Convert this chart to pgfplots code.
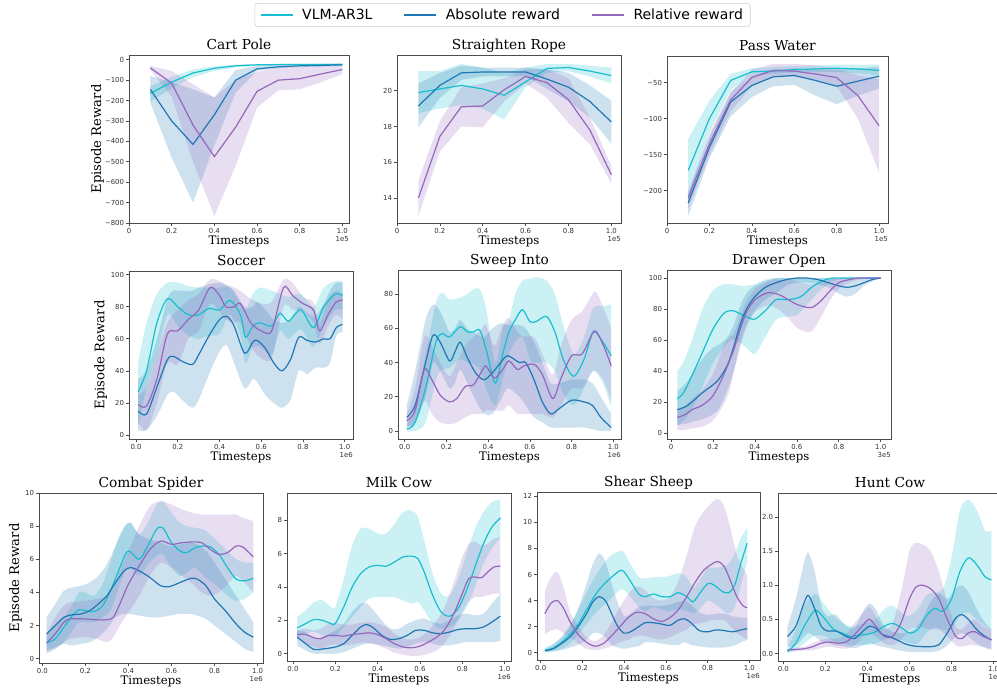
\documentclass[border=0pt]{standalone}
\usepackage{fontspec}
\setmainfont{DejaVu Serif}
\newfontfamily\sansf{DejaVu Sans}
\usepackage{pgfplots}
\usepackage{pgfplotstable}
\pgfplotsset{compat=1.18}
\usepgfplotslibrary{fillbetween}
\definecolor{ccyan}{HTML}{17BECF}
\definecolor{cblue}{HTML}{1F77B4}
\definecolor{cpurple}{HTML}{9467BD}

\newcommand{\band}[4]{%
 \addplot[name path=U#3, draw=none, #4, forget plot] table[x=x,y=hi]{#1};
 \addplot[name path=L#3, draw=none, #4, forget plot] table[x=x,y=lo]{#1};
 \addplot[fill=#2, fill opacity=0.22, draw=none, forget plot] fill between[of=U#3 and L#3];
 \addplot[#2, line width=0.9pt, #4] table[x=x,y=m]{#1};
}

\pgfplotsset{
 myax/.style={scale only axis, anchor=south west,
  axis line style={black!70, line width=0.6pt},
  tick align=outside, tick pos=left, major tick length=2pt,
  tick style={black!70, line width=0.5pt},
  ticklabel style={font=\sansf\fontsize{5.2}{6}\selectfont, text=black!80, inner sep=1.5pt},
  title style={font=\fontsize{10.3}{12}\selectfont, anchor=base, at={(0.5,1)}, yshift=-2.2pt},
  xlabel={Timesteps},
  xlabel style={font=\fontsize{8.8}{10}\selectfont, at={(0.5,0)}, anchor=base, yshift=-16pt},
  ylabel style={font=\fontsize{9.9}{11}\selectfont, at={(0,0.5)}, anchor=center},
  xtick={0,0.2,0.4,0.6,0.8,1}, xticklabels={0.0,0.2,0.4,0.6,0.8,1.0}},
 off/.style={extra description/.code={\node[anchor=north east, yshift=-10pt, font=\sansf\fontsize{5.2}{6}\selectfont, text=black!80, inner sep=0pt] at (1,0) {#1};}},
}

% ---------------- Cart Pole
\pgfplotstableread{
x m lo hi
0.1 -165 -205 -130
0.2 -110 -140 -85
0.3 -65 -85 -48
0.4 -42 -55 -32
0.5 -30 -38 -24
0.6 -25 -30 -20
0.7 -24 -28 -20
0.8 -24 -28 -20
0.9 -24 -28 -20
1.0 -24 -28 -20
}\cpC
\pgfplotstableread{
x m lo hi
0.1 -145 -210 -80
0.2 -300 -480 -110
0.3 -415 -700 -145
0.4 -270 -420 -185
0.5 -100 -160 -50
0.6 -45 -55 -30
0.7 -35 -42 -25
0.8 -30 -36 -22
0.9 -28 -33 -20
1.0 -25 -30 -18
}\cpB
\pgfplotstableread{
x m lo hi
0.1 -40 -50 -30
0.2 -115 -180 -55
0.3 -320 -500 -120
0.4 -475 -765 -185
0.5 -330 -520 -100
0.6 -155 -235 -60
0.7 -100 -150 -40
0.8 -93 -145 -35
0.9 -70 -110 -30
1.0 -48 -70 -25
}\cpP
% ---------------- Straighten Rope
\pgfplotstableread{
x m lo hi
0.1 19.9 18.75 21.1
0.2 20.1 19.0 21.1
0.3 20.3 19.2 21.5
0.4 20.1 19.0 21.3
0.5 19.75 18.4 21.0
0.6 20.5 20.2 21.3
0.7 21.25 21.0 21.5
0.8 21.3 21.1 21.5
0.9 21.1 20.8 21.4
1.0 20.85 20.4 21.3
}\srC
\pgfplotstableread{
x m lo hi
0.1 19.15 17.95 20.4
0.2 20.3 19.6 21.0
0.3 21.0 20.6 21.4
0.4 21.05 20.8 21.3
0.5 21.05 20.8 21.3
0.6 21.05 20.8 21.3
0.7 20.65 20.1 21.2
0.8 20.2 19.4 21.0
0.9 19.4 18.5 20.3
1.0 18.25 17.05 19.45
}\srB
\pgfplotstableread{
x m lo hi
0.1 14.0 13.0 15.0
0.2 17.45 16.6 18.3
0.3 19.1 18.0 20.2
0.4 19.15 17.95 20.4
0.5 20.05 19.4 20.7
0.6 20.8 20.4 21.2
0.7 20.45 19.6 21.2
0.8 19.5 18.2 20.7
0.9 17.8 17.0 18.5
1.0 15.3 14.8 15.8
}\srP
% ---------------- Pass Water
\pgfplotstableread{
x m lo hi
0.1 -172 -215 -128
0.2 -100 -120 -75
0.3 -47 -60 -38
0.4 -35 -40 -30
0.5 -34 -38 -28
0.6 -32 -36 -27
0.7 -31 -35 -26
0.8 -30 -35 -25
0.9 -31 -37 -25
1.0 -33 -40 -25
}\pwC
\pgfplotstableread{
x m lo hi
0.1 -217 -235 -205
0.2 -140 -155 -125
0.3 -77 -97 -62
0.4 -54 -70 -40
0.5 -42 -55 -32
0.6 -40 -53 -30
0.7 -47 -68 -32
0.8 -55 -80 -32
0.9 -48 -68 -30
1.0 -41 -58 -28
}\pwB
\pgfplotstableread{
x m lo hi
0.1 -210 -225 -200
0.2 -135 -150 -122
0.3 -74 -90 -65
0.4 -43 -55 -32
0.5 -33 -42 -24
0.6 -34 -42 -24
0.7 -38 -46 -26
0.8 -43 -55 -30
0.9 -68 -100 -40
1.0 -110 -175 -45
}\pwP
% ---------------- Soccer
\pgfplotstableread{
x m lo hi
0.01 27 5 45
0.05 40 30 70
0.10 70 50 88
0.15 85 75 95
0.20 80 68 95
0.25 75 62 93
0.30 75 60 92
0.35 79 62 92
0.40 78 63 92
0.45 84 75 92
0.50 75 62 82
0.525 61 45 78
0.56 68 55 88
0.595 70 55 92
0.65 68 50 90
0.69 76 65 88
0.73 71 60 86
0.79 78 66 88
0.85 67 55 80
0.90 80 68 92
0.955 88 78 96
0.99 87 78 96
}\soC
\pgfplotstableread{
x m lo hi
0.01 15 3 35
0.05 13 3 40
0.10 30 12 60
0.15 47 25 85
0.18 49 27 90
0.22 46 22 90
0.27 44 17 90
0.30 50 22 92
0.35 62 38 94
0.40 72 52 95
0.435 74 56 93
0.47 68 45 90
0.52 51 29 80
0.56 58 35 80
0.58 59 33 83
0.62 54 25 78
0.66 45 20 72
0.70 40 17 70
0.74 47 22 72
0.78 61 40 80
0.82 59 38 76
0.86 58 42 74
0.90 60 42 82
0.93 60 45 90
0.96 67 62 95
0.99 69 64 95
}\soB
\pgfplotstableread{
x m lo hi
0.01 19 8 25
0.05 18 3 30
0.10 35 20 50
0.15 63 45 70
0.20 65 44 78
0.25 72 60 84
0.30 78 65 88
0.355 92 82 97
0.40 87 77 96
0.43 80 72 94
0.47 80 70 92
0.50 82 70 90
0.55 70 55 85
0.60 65 48 82
0.65 65 48 83
0.707 92 80 97
0.75 87 78 95
0.80 82 77 86
0.85 78 70 83
0.88 65 57 70
0.92 75 68 85
0.96 83 75 90
0.99 84 72 88
}\soP
% ---------------- Sweep Into
\pgfplotstableread{
x m lo hi
0.01 1 0 3
0.05 5 0 15
0.10 25 5 45
0.15 52 30 75
0.18 57 36 81
0.215 55 37 77
0.266 61 42 78
0.30 58 40 80
0.33 58 39 83
0.36 59 36 83
0.39 48 25 72
0.434 28 15 40
0.47 45 30 60
0.50 58 45 65
0.53 65 52 80
0.565 71 55 88
0.60 64 42 89
0.63 64 40 90
0.68 67 40 88
0.72 58 35 80
0.76 42 22 62
0.81 32 15 45
0.86 42 25 55
0.904 58 35 72
0.95 52 28 73
0.99 44 14 74
}\siC
\pgfplotstableread{
x m lo hi
0.01 8 3 15
0.05 15 5 35
0.10 40 20 65
0.136 56 40 74
0.17 52 35 70
0.215 41 25 58
0.24 46 28 60
0.266 52 36 65
0.30 43 28 60
0.34 34 18 57
0.38 30 10 55
0.42 34 10 60
0.46 40 18 63
0.494 44 25 62
0.55 40 20 62
0.58 40 15 60
0.62 30 8 52
0.66 17 5 40
0.70 10 2 28
0.74 13 2 28
0.80 18 2 30
0.86 17 2 30
0.90 15 1 28
0.94 8 0 20
0.99 2 0 10
}\siB
\pgfplotstableread{
x m lo hi
0.01 6 2 10
0.05 12 5 25
0.094 36 18 55
0.13 30 10 50
0.17 21 5 40
0.215 17 4 32
0.25 19 5 40
0.29 26 8 50
0.33 27 10 55
0.37 35 10 60
0.39 38 12 62
0.43 31 12 50
0.47 36 12 62
0.50 41 15 66
0.54 36 10 58
0.57 38 10 55
0.62 39 10 55
0.66 33 10 45
0.71 19 8 33
0.75 31 15 50
0.80 44 25 65
0.85 45 25 70
0.90 57 35 80
0.92 58 35 81
0.96 48 28 70
0.99 38 17 60
}\siP
% ---------------- Drawer Open
\pgfplotstableread{
x m lo hi
0.03 22 5 40
0.06 26 8 46
0.10 37 15 60
0.15 52 30 80
0.20 67 45 92
0.25 77 55 96
0.29 79 60 96
0.33 77 58 95
0.36 75 55 95
0.40 73.5 51 96
0.45 79 62 99
0.50 86 73 100
0.55 86 75 100
0.60 87 76 100
0.63 89 80 100
0.67 94 86 100
0.72 98 93 100
0.77 100 98 100
0.85 100 100 100
0.95 100 100 100
1.00 100 100 100
}\doC
\pgfplotstableread{
x m lo hi
0.03 15 5 27
0.07 17 6 32
0.10 20 7 38
0.15 26 9 48
0.20 31 12 55
0.23 35 16 57
0.27 44 28 62
0.30 56 40 70
0.33 70 58 82
0.36 80 70 90
0.40 88 79 95
0.45 94 86 98
0.50 97 90 100
0.55 99 95 100
0.60 100 97 100
0.65 100 97 100
0.70 99 96 100
0.75 97 94 100
0.80 95 90 100
0.84 94 88 100
0.88 95 90 100
0.92 97 95 100
0.96 99 98 100
1.00 100 100 100
}\doB
\pgfplotstableread{
x m lo hi
0.03 10 2 15
0.07 12 2 18
0.10 15 3 22
0.15 18 4 28
0.20 24 8 38
0.25 37 18 56
0.28 47 28 62
0.30 54 40 64
0.33 67 55 75
0.36 78 68 85
0.40 86 78 93
0.45 90 82 97
0.48 90.5 82 99
0.52 89 79 99
0.56 86 74 99
0.60 83 68 98
0.65 81 65 96
0.68 81.5 67 96
0.72 86 76 97
0.76 92 86 99
0.80 97 93 100
0.85 99 97 100
0.90 100 99 100
1.00 100 100 100
}\doP
% ---------------- Combat Spider
\pgfplotstableread{
x m lo hi
0.02 0.95 0.4 1.5
0.06 1.2 0.6 2.0
0.10 1.9 1.0 2.5
0.14 2.6 1.7 3.3
0.17 2.95 2.2 4.0
0.20 2.9 2.2 4.0
0.24 2.85 2.2 3.8
0.28 3.2 2.5 4.5
0.32 4.2 3.0 6.0
0.36 5.5 4.5 7.5
0.39 6.4 5.4 8.1
0.41 6.45 5.5 8.2
0.45 6.0 5.0 7.5
0.49 6.8 5.7 8.2
0.53 7.8 6.2 9.3
0.56 7.9 6.3 9.5
0.60 7.0 5.5 8.8
0.64 6.5 5.0 8.2
0.67 6.4 5.2 8.0
0.71 6.7 5.5 7.9
0.75 6.8 5.0 7.8
0.78 6.75 4.7 7.5
0.82 6.3 4.3 7.0
0.86 5.5 3.8 6.5
0.90 4.8 3.5 6.0
0.94 4.7 3.6 5.8
0.98 4.85 4.0 5.8
}\csC
\pgfplotstableread{
x m lo hi
0.02 1.5 0.5 2.5
0.06 2.0 0.7 3.3
0.10 2.5 0.9 4.1
0.14 2.65 0.8 4.3
0.18 2.7 0.9 4.4
0.22 2.9 1.0 4.6
0.26 3.3 1.3 5.0
0.30 3.8 1.8 5.7
0.34 4.6 2.5 6.8
0.38 5.3 2.7 7.9
0.41 5.5 2.7 8.2
0.45 5.3 2.6 7.5
0.50 4.9 2.5 7.2
0.55 4.4 2.5 7.0
0.59 4.35 2.6 6.8
0.64 4.6 2.7 6.9
0.69 4.85 2.7 7.0
0.72 4.8 2.6 6.9
0.76 4.4 2.4 6.5
0.80 3.6 2.0 5.8
0.85 2.9 1.5 4.8
0.90 2.1 1.0 3.8
0.94 1.6 0.6 3.0
0.98 1.3 0.4 2.2
}\csB
\pgfplotstableread{
x m lo hi
0.02 0.95 0.3 1.5
0.06 1.5 0.6 2.5
0.10 2.2 1.0 3.2
0.13 2.4 1.2 3.4
0.20 2.4 1.3 3.5
0.25 2.35 1.2 3.6
0.30 2.35 1.0 3.8
0.33 2.5 1.3 4.3
0.36 3.3 2.0 5.3
0.40 4.5 2.8 6.5
0.45 5.6 3.8 8.0
0.50 6.6 5.0 9.2
0.55 7.1 5.8 9.5
0.60 6.9 5.5 9.3
0.65 7.0 5.0 9.0
0.70 7.05 4.5 8.8
0.74 7.0 4.0 8.7
0.78 6.6 3.8 8.7
0.82 6.3 4.0 8.7
0.86 6.4 4.5 8.7
0.90 6.8 5.0 8.7
0.93 6.75 4.7 8.5
0.96 6.4 4.3 8.4
0.98 6.15 4.0 8.3
}\csP
% ---------------- Milk Cow
\pgfplotstableread{
x m lo hi
0.02 1.55 1.0 2.2
0.06 1.8 1.2 2.6
0.10 2.05 1.3 3.1
0.14 2.0 1.1 3.2
0.18 1.8 1.0 2.8
0.20 1.8 1.0 2.8
0.24 2.8 1.6 4.5
0.28 4.0 2.2 6.5
0.32 4.8 2.8 7.5
0.36 5.2 3.3 7.5
0.40 5.3 3.4 7.2
0.44 5.25 3.4 7.2
0.48 5.5 3.4 7.8
0.52 5.8 3.2 8.5
0.56 5.85 3.0 8.6
0.59 5.7 3.1 8.2
0.62 4.9 2.6 6.8
0.66 3.5 1.8 4.8
0.70 2.5 1.5 3.6
0.74 2.25 1.6 3.5
0.78 2.7 2.0 4.5
0.82 3.8 2.8 6.0
0.86 5.2 4.0 7.5
0.90 6.6 5.4 8.5
0.94 7.6 6.3 9.1
0.98 8.15 7.0 9.25
}\mcC
\pgfplotstableread{
x m lo hi
0.02 1.0 0.5 1.4
0.06 0.6 0.2 1.3
0.10 0.25 0.0 0.9
0.14 0.28 0.0 1.0
0.20 0.4 0.0 1.4
0.24 0.6 0.1 1.8
0.28 1.1 0.3 2.5
0.32 1.6 0.5 3.0
0.35 1.75 0.6 3.0
0.38 1.55 0.6 2.6
0.42 1.1 0.5 2.0
0.46 0.85 0.4 1.5
0.50 0.9 0.3 1.5
0.54 1.1 0.4 1.8
0.58 1.4 0.6 2.0
0.62 1.4 0.7 2.1
0.66 1.25 0.6 1.9
0.70 1.2 0.5 1.8
0.74 1.3 0.5 2.0
0.78 1.45 0.6 2.3
0.82 1.5 0.7 2.4
0.86 1.5 0.7 2.3
0.90 1.6 0.7 2.4
0.94 1.9 0.7 3.0
0.98 2.25 0.75 3.6
}\mcB
\pgfplotstableread{
x m lo hi
0.02 1.15 0.9 1.4
0.06 1.15 0.6 1.5
0.10 0.95 0.4 1.4
0.13 0.9 0.3 1.5
0.17 1.1 0.5 1.8
0.20 1.1 0.55 1.85
0.24 1.05 0.5 1.75
0.28 1.15 0.55 1.75
0.32 1.2 0.65 1.85
0.36 1.25 0.65 1.9
0.40 1.15 0.5 1.8
0.44 0.9 0.3 1.6
0.48 0.6 0.05 1.2
0.52 0.4 -0.05 0.9
0.56 0.35 -0.15 0.85
0.60 0.45 -0.12 1.0
0.64 0.7 0.0 1.4
0.68 1.0 0.2 2.0
0.72 1.5 0.7 2.9
0.76 2.4 1.5 4.3
0.80 3.6 2.5 5.8
0.83 4.5 3.1 6.6
0.86 4.6 3.4 6.7
0.89 4.55 3.4 6.5
0.92 4.9 3.5 6.6
0.95 5.2 3.6 6.9
0.98 5.25 3.6 7.0
}\mcP
% ---------------- Shear Sheep
\pgfplotstableread{
x m lo hi
0.02 0.2 0.0 0.4
0.06 0.35 0.1 0.7
0.10 0.8 0.3 1.2
0.14 1.4 0.7 2.1
0.18 2.2 1.4 3.3
0.22 3.3 2.2 4.6
0.26 4.4 3.0 5.8
0.30 5.2 3.6 6.8
0.34 5.8 4.2 7.5
0.38 6.3 4.8 7.8
0.40 6.2 4.8 7.7
0.43 5.5 4.3 6.8
0.47 4.5 3.5 5.8
0.50 4.3 3.2 5.7
0.54 4.5 3.5 5.8
0.58 4.3 3.3 5.8
0.62 4.3 3.2 5.9
0.66 4.6 3.3 6.1
0.70 4.3 3.2 5.8
0.73 3.9 3.0 5.0
0.76 4.5 3.3 5.5
0.80 5.3 4.0 6.5
0.83 5.2 3.8 6.5
0.87 4.7 3.3 6.6
0.90 4.6 3.0 6.8
0.93 5.2 3.5 7.6
0.96 6.9 5.2 8.8
0.99 8.4 7.0 9.6
}\ssC
\pgfplotstableread{
x m lo hi
0.02 0.15 0.05 0.25
0.06 0.3 0.1 0.6
0.10 0.7 0.2 1.2
0.14 1.2 0.4 2.0
0.18 2.0 0.6 3.4
0.22 3.0 1.0 5.3
0.25 3.9 1.5 6.8
0.28 4.3 1.5 7.6
0.31 4.0 1.2 7.0
0.34 3.0 0.6 5.3
0.37 2.0 0.4 3.8
0.40 1.5 0.3 2.8
0.43 1.6 0.4 3.0
0.47 2.0 0.5 3.5
0.50 2.3 0.8 3.6
0.54 2.3 0.8 3.6
0.58 2.2 0.7 3.6
0.62 2.1 0.6 3.7
0.66 2.5 0.6 3.9
0.69 2.6 0.8 4.0
0.72 2.3 0.6 3.7
0.76 1.7 0.5 3.1
0.80 1.6 0.4 2.9
0.84 1.75 0.4 3.0
0.88 1.7 0.4 3.0
0.92 1.6 0.5 2.8
0.96 1.75 0.8 2.7
0.99 1.85 1.0 2.7
}\ssB
\pgfplotstableread{
x m lo hi
0.02 3.0 1.4 4.7
0.05 3.8 1.7 5.8
0.08 4.0 1.8 6.2
0.11 3.4 1.5 5.0
0.14 2.4 1.2 3.2
0.18 1.4 0.7 2.0
0.22 0.8 0.3 1.2
0.26 0.5 0.2 0.9
0.30 0.7 0.3 1.3
0.34 1.3 0.5 2.3
0.38 2.0 0.8 3.5
0.42 2.7 1.0 4.5
0.46 3.1 1.3 5.1
0.50 3.0 1.3 4.8
0.54 2.6 1.1 4.2
0.58 2.4 1.0 4.0
0.62 2.7 1.2 4.3
0.66 3.3 1.5 5.5
0.70 4.3 1.8 7.5
0.74 5.4 2.2 9.7
0.78 6.3 2.3 10.8
0.82 6.8 2.5 11.5
0.85 7.0 2.5 11.8
0.88 6.6 2.5 11.2
0.91 5.5 2.0 9.5
0.94 4.3 1.5 7.5
0.97 3.6 1.2 6.5
0.99 3.45 1.0 5.9
}\ssP
% ---------------- Hunt Cow
\pgfplotstableread{
x m lo hi
0.02 0.03 0.0 0.08
0.06 0.15 0.05 0.35
0.10 0.4 0.15 0.7
0.14 0.6 0.25 0.85
0.16 0.63 0.27 0.86
0.20 0.5 0.25 0.7
0.24 0.35 0.18 0.55
0.28 0.3 0.15 0.45
0.32 0.25 0.12 0.4
0.36 0.27 0.13 0.42
0.40 0.28 0.12 0.45
0.44 0.32 0.15 0.5
0.48 0.4 0.2 0.65
0.52 0.44 0.22 0.7
0.56 0.38 0.2 0.6
0.60 0.3 0.15 0.55
0.64 0.35 0.15 0.65
0.68 0.55 0.3 0.85
0.72 0.66 0.38 0.9
0.76 0.62 0.35 0.95
0.80 0.8 0.35 1.4
0.84 1.2 0.55 2.1
0.88 1.4 0.6 2.25
0.92 1.3 0.5 2.1
0.96 1.12 0.4 1.8
0.99 1.08 0.35 1.8
}\hcC
\pgfplotstableread{
x m lo hi
0.02 0.25 0.1 0.4
0.06 0.4 0.12 0.8
0.10 0.75 0.25 1.35
0.12 0.85 0.3 1.47
0.15 0.65 0.25 1.2
0.18 0.4 0.18 0.7
0.21 0.33 0.15 0.55
0.25 0.33 0.12 0.57
0.30 0.25 0.1 0.4
0.34 0.22 0.08 0.38
0.38 0.33 0.12 0.62
0.41 0.4 0.15 0.73
0.44 0.37 0.12 0.65
0.47 0.28 0.1 0.45
0.50 0.25 0.08 0.35
0.54 0.2 0.05 0.3
0.58 0.14 0.03 0.3
0.62 0.11 0.02 0.35
0.66 0.1 0.02 0.5
0.70 0.1 0.02 0.75
0.74 0.13 0.04 0.88
0.78 0.3 0.12 0.8
0.82 0.52 0.25 0.95
0.85 0.57 0.3 1.0
0.88 0.5 0.25 0.9
0.92 0.35 0.15 0.65
0.96 0.25 0.08 0.45
0.99 0.2 0.05 0.35
}\hcB
\pgfplotstableread{
x m lo hi
0.02 0.05 0.03 0.07
0.10 0.07 0.04 0.1
0.14 0.1 0.05 0.15
0.18 0.15 0.08 0.2
0.22 0.17 0.1 0.22
0.26 0.15 0.08 0.22
0.30 0.17 0.07 0.28
0.34 0.28 0.12 0.45
0.38 0.42 0.25 0.6
0.41 0.5 0.3 0.68
0.44 0.4 0.25 0.55
0.48 0.25 0.15 0.35
0.52 0.25 0.12 0.45
0.56 0.45 0.2 0.9
0.60 0.8 0.35 1.5
0.63 0.97 0.38 1.62
0.66 1.0 0.38 1.6
0.70 0.95 0.35 1.5
0.74 0.8 0.35 1.2
0.78 0.5 0.25 0.75
0.82 0.25 0.12 0.4
0.85 0.22 0.1 0.35
0.88 0.3 0.12 0.45
0.91 0.32 0.12 0.5
0.95 0.25 0.1 0.4
0.99 0.2 0.07 0.35
}\hcP

\begin{document}
\begin{tikzpicture}

% Cart Pole
\begin{axis}[myax, at={(96.75pt,-167.25pt)}, width=165pt, height=126pt,
 xmin=0, xmax=1.031, ymin=-800, ymax=23,
 xticklabels={0,0.2,0.4,0.6,0.8,1.0},
 ytick={-800,-700,-600,-500,-400,-300,-200,-100,0},
 yticklabels={−800,−700,−600,−500,−400,−300,−200,−100,0},
 title={Cart Pole}, ylabel={Episode Reward}, ylabel style={yshift=23.6pt}, off=1e5]
\band{\cpC}{ccyan}{a}{sharp plot}
\band{\cpB}{cblue}{b}{sharp plot}
\band{\cpP}{cpurple}{c}{sharp plot}
\end{axis}

% Straighten Rope
\begin{axis}[myax, at={(297.75pt,-167.25pt)}, width=168pt, height=126pt,
 xmin=0, xmax=1.045, ymin=12.6, ymax=22.0,
 xticklabels={0,0.2,0.4,0.6,0.8,1.0},
 ytick={14,16,18,20}, yticklabels={14,16,18,20},
 title={Straighten Rope}, off=1e5,
 legend columns=3,
 legend style={at={(0.471,1.3095)}, anchor=north, draw=black!20, rounded corners=2pt,
  font=\sansf\fontsize{10.5}{12}\selectfont, inner xsep=3.5pt,
  /tikz/every even column/.append style={column sep=21pt},
  /tikz/every odd column/.append style={column sep=4.5pt}},
 legend image code/.code={\draw[#1, line width=1.6pt] (0pt,0pt) -- (24pt,0pt);},
 legend entries={VLM-AR3L, Absolute reward, Relative reward}]
\band{\srC}{ccyan}{a}{sharp plot}
\band{\srB}{cblue}{b}{sharp plot}
\band{\srP}{cpurple}{c}{sharp plot}
\end{axis}

% Pass Water
\begin{axis}[myax, at={(500.25pt,-167.25pt)}, width=165.75pt, height=125.25pt,
 xmin=0, xmax=1.042, ymin=-245, ymax=-13,
 xticklabels={0,0.2,0.4,0.6,0.8,1.0},
 ytick={-200,-150,-100,-50}, yticklabels={−200,−150,−100,−50},
 title={Pass Water}, off=1e5]
\band{\pwC}{ccyan}{a}{sharp plot}
\band{\pwB}{cblue}{b}{sharp plot}
\band{\pwP}{cpurple}{c}{sharp plot}
\end{axis}

% Soccer
\begin{axis}[myax, at={(96.75pt,-329.25pt)}, width=168pt, height=126pt,
 xmin=-0.034, xmax=1.04, ymin=-2.5, ymax=102.3,
 ytick={0,20,40,60,80,100}, yticklabels={0,20,40,60,80,100},
 title={Soccer}, ylabel={Episode Reward}, ylabel style={yshift=21.2pt}, off=1e6]
\band{\soC}{ccyan}{a}{smooth}
\band{\soB}{cblue}{b}{smooth}
\band{\soP}{cpurple}{c}{smooth}
\end{axis}

% Sweep Into
\begin{axis}[myax, at={(298.5pt,-329.25pt)}, width=167.25pt, height=126.75pt,
 xmin=-0.032, xmax=1.037, ymin=-4.7, ymax=94.2,
 ytick={0,20,40,60,80}, yticklabels={0,20,40,60,80},
 title={Sweep Into}, off=1e6]
\band{\siC}{ccyan}{a}{smooth}
\band{\siB}{cblue}{b}{smooth}
\band{\siP}{cpurple}{c}{smooth}
\end{axis}

% Drawer Open
\begin{axis}[myax, at={(500.25pt,-329.25pt)}, width=168pt, height=126.75pt,
 xmin=-0.019, xmax=1.049, ymin=-3.9, ymax=105.2,
 xticklabels={0,0.2,0.4,0.6,0.8,1.0},
 ytick={0,20,40,60,80,100}, yticklabels={0,20,40,60,80,100},
 title={Drawer Open}, off=3e5]
\band{\doC}{ccyan}{a}{smooth}
\band{\doB}{cblue}{b}{smooth}
\band{\doP}{cpurple}{c}{smooth}
\end{axis}

% Hunt Cow
\begin{axis}[myax, at={(583.5pt,-495.75pt)}, width=168pt, height=126pt,
 xmin=-0.025, xmax=1.04, ymin=-0.11, ymax=2.35,
 ytick={0,0.5,1,1.5,2}, yticklabels={0.0,0.5,1.0,1.5,2.0},
 title={Hunt Cow}, off=1e6]
\band{\hcC}{ccyan}{a}{smooth}
\band{\hcB}{cblue}{b}{smooth}
\band{\hcP}{cpurple}{c}{smooth}
\end{axis}

% Combat Spider
\begin{axis}[myax, at={(29.25pt,-497.25pt)}, width=168pt, height=127.5pt,
 xmin=-0.0155, xmax=1.025, ymin=-0.26, ymax=10,
 ytick={0,2,4,6,8,10}, yticklabels={0,2,4,6,8,10},
 title={Combat Spider}, ylabel={Episode Reward}, ylabel style={yshift=17.6pt}, off=1e6]
\band{\csC}{ccyan}{a}{smooth}
\band{\csB}{cblue}{b}{smooth}
\band{\csP}{cpurple}{c}{smooth}
\end{axis}

% Milk Cow
\begin{axis}[myax, at={(215.25pt,-495.75pt)}, width=168pt, height=126pt,
 xmin=-0.028, xmax=1.03, ymin=-0.44, ymax=9.64,
 ytick={0,2,4,6,8}, yticklabels={0,2,4,6,8},
 title={Milk Cow}, off=1e6]
\band{\mcC}{ccyan}{a}{smooth}
\band{\mcB}{cblue}{b}{smooth}
\band{\mcP}{cpurple}{c}{smooth}
\end{axis}

% Shear Sheep
\begin{axis}[myax, at={(402.75pt,-495pt)}, width=167.25pt, height=126pt,
 xmin=-0.0175, xmax=1.051, ymin=-0.56, ymax=12.33,
 ytick={0,2,4,6,8,10,12}, yticklabels={0,2,4,6,8,10,12},
 title={Shear Sheep}, off=1e6]
\band{\ssC}{ccyan}{a}{smooth}
\band{\ssB}{cblue}{b}{smooth}
\band{\ssP}{cpurple}{c}{smooth}
\end{axis}

\pgfresetboundingbox
\useasboundingbox (0pt,0pt) rectangle (747.75pt,-516pt);
\end{tikzpicture}
\end{document}
